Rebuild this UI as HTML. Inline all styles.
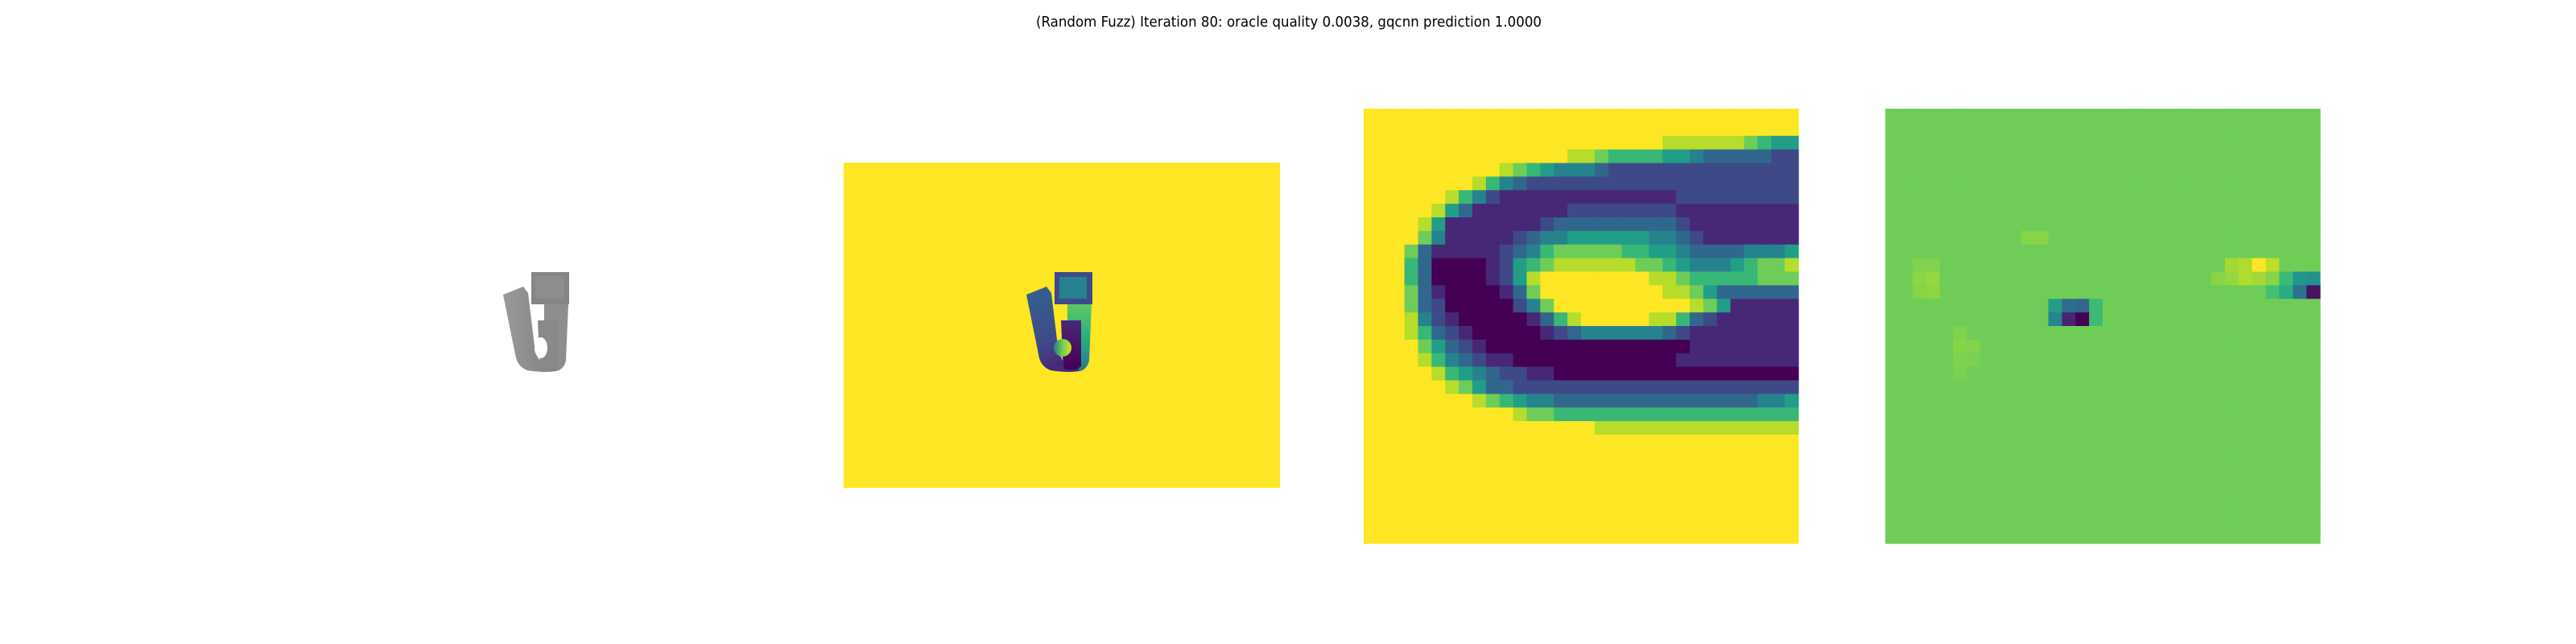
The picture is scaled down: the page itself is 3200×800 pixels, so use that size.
<!DOCTYPE html>
<html><head><meta charset="utf-8"><style>
html,body{margin:0;padding:0;background:#fff;width:3200px;height:800px;overflow:hidden}
svg{display:block}
</style></head><body>
<svg id="fig" width="3200" height="800" xmlns="http://www.w3.org/2000/svg">
<defs>
<linearGradient id="gL" x1="0" y1="0" x2="0.3" y2="1"><stop offset="0" stop-color="#33638d"/><stop offset="0.7" stop-color="#3e4a89"/><stop offset="1" stop-color="#482878"/></linearGradient>
<linearGradient id="gR" x1="0" y1="0" x2="0" y2="1"><stop offset="0" stop-color="#5ec962"/><stop offset="0.5" stop-color="#29af7f"/><stop offset="1" stop-color="#2a788e"/></linearGradient>
<linearGradient id="gH" x1="0" y1="0" x2="0" y2="1"><stop offset="0" stop-color="#482878"/><stop offset="1" stop-color="#440154"/></linearGradient>
<linearGradient id="gO" x1="0" y1="0" x2="1" y2="0"><stop offset="0" stop-color="#2a788e"/><stop offset="0.5" stop-color="#6ece58"/><stop offset="1" stop-color="#d8e219"/></linearGradient>
<linearGradient id="gG" x1="0" y1="0" x2="1" y2="0"><stop offset="0" stop-color="#9a9a9a"/><stop offset="1" stop-color="#808080"/></linearGradient>
</defs>
<text x="1601" y="33" text-anchor="middle" font-family="DejaVu Sans, Liberation Sans, sans-serif" font-size="18" textLength="628" lengthAdjust="spacingAndGlyphs" fill="#000">(Random Fuzz) Iteration 80: oracle quality 0.0038, gqcnn prediction 1.0000</text>
<g transform="translate(-650,0)">
<path d="M1275,366 L1300,356 L1306,364 L1314,430 Q1318,452 1330,455 L1343,455 L1345,460 Q1330,464 1305,460 Q1292,455 1290,440 Z" fill="url(#gG)"/>
<path d="M1326,378 L1356,378 L1353,448 Q1350,460 1340,461 L1343,398 L1326,398 Z" fill="#8e8e8e"/>
<path d="M1318,398 L1343,398 L1343,455 Q1335,462 1322,458 L1320,444 Z" fill="#898989"/>
<ellipse cx="1322" cy="432" rx="8" ry="13" fill="#ffffff"/>
<rect x="1310" y="338" width="47" height="40" fill="#858585"/>
<rect x="1315" y="343" width="36" height="28" fill="#8d8d8d"/>
</g>
<g>
<rect x="1048" y="202" width="542" height="404" fill="#fde725"/>
<path d="M1275,366 L1300,356 L1306,364 L1314,430 Q1318,452 1330,455 L1343,455 L1345,460 Q1330,464 1305,460 Q1292,455 1290,440 Z" fill="url(#gL)"/>
<path d="M1326,378 L1356,378 L1353,448 Q1350,460 1340,461 L1343,398 L1326,398 Z" fill="url(#gR)"/>
<path d="M1318,398 L1343,398 L1343,455 Q1335,462 1322,458 L1320,444 Z" fill="url(#gH)"/>
<circle cx="1320" cy="432" r="11" fill="url(#gO)"/>
<rect x="1310" y="338" width="47" height="40" fill="#3e4a89"/>
<rect x="1316" y="344" width="34" height="27" fill="#26828e"/>
</g>
<g id="p3"></g>
<g id="p4"></g>
</svg>
<script>
const cropRows = [
"99999999999999999999999999999999",
"99999999999999999999999999999999",
"99999999999999999999998888887655",
"99999999999999988766665543333322",
"99999999998765444322222222222222",
"99999999864322222222222222222222",
"99999986421111111111111222222222",
"99999853111111122222222111111111",
"99998511111112333333333211111111",
"99997411111234455555544321111111",
"99973111112346777776655433334445",
"99963000012567888888776544456778",
"99963000012589999999988766666777",
"99973100001379999999998875333333",
"99973200000247999999999987511111",
"99984210000013689999988632111111",
"99986321000001234444443211111111",
"99997532100000000000000011111111",
"99998643211000000000000111111111",
"99999865432211000000000000000000",
"99999987533222222222222222222222",
"99999999876544333333333333333445",
"99999999999877666666666666666666",
"99999999999999999888888888888888",
"99999999999999999999999999999999",
"99999999999999999999999999999999",
"99999999999999999999999999999999",
"99999999999999999999999999999999",
"99999999999999999999999999999999",
"99999999999999999999999999999999",
"99999999999999999999999999999999",
"99999999999999999999999999999999"
];
const gradBase = 0.78;
const gradRowsIdx = [11,11,11,11,12,12,12,12,12,12,12,12,13,13,13,13,14,14,14,14,15,15,15,15,11,12,13,11,12,13,9,9,16,17,18,19,17,18];
const gradColsIdx = [25,26,27,28,24,25,26,27,28,29,30,31,28,29,30,31,12,13,14,15,12,13,14,15,2,2,2,3,3,3,10,11,5,5,5,5,6,6];
const gradValues  = [.86,.88,1.0,.9,.82,.84,.88,.86,.82,.68,.52,.5,.7,.62,.38,.05,.55,.35,.33,.68,.45,.1,0,.68,.81,.83,.82,.81,.84,.83,.82,.82,.81,.82,.81,.80,.81,.80];

const VIR = ["#440154","#482475","#414487","#355f8d","#2a788e","#21918c","#22a884","#44bf70","#7ad151","#bddf26","#fde725"];
function hex2(c){return [1,3,5].map(i=>parseInt(c.substr(i,2),16));}
function viridis(v){v=Math.max(0,Math.min(1,v));const t=v*10,i=Math.min(9,Math.floor(t)),f=t-i;
const a=hex2(VIR[i]),b=hex2(VIR[i+1]);return "rgb("+a.map((x,k)=>Math.round(x+(b[k]-x)*f)).join(",")+")";}
const NS="http://www.w3.org/2000/svg";
const N=32;
function drawGrid(g,x0,y0,size,valFn){
  const cs=size/N;
  for(let r=0;r<N;r++)for(let c=0;c<N;c++){
    const el=document.createElementNS(NS,"rect");
    el.setAttribute("x",(x0+c*cs).toFixed(2));
    el.setAttribute("y",(y0+r*cs).toFixed(2));
    el.setAttribute("width",(cs+0.6).toFixed(2));
    el.setAttribute("height",(cs+0.6).toFixed(2));
    el.setAttribute("fill",viridis(valFn(r,c)));
    
    
    g.appendChild(el);
  }
}
drawGrid(document.getElementById("p3"),1694,135,540,(r,c)=>{
  const row=cropRows[r]||""; const ch=row[c]!==undefined?row[c]:"9"; return parseInt(ch,10)/9;});
const gmap={};
for(let i=0;i<gradValues.length;i++) gmap[gradRowsIdx[i]+","+gradColsIdx[i]]=gradValues[i];
drawGrid(document.getElementById("p4"),2342,135,540,(r,c)=>{
  const k=r+","+c; return (k in gmap)?gmap[k]:gradBase;});
</script>
</body></html>
